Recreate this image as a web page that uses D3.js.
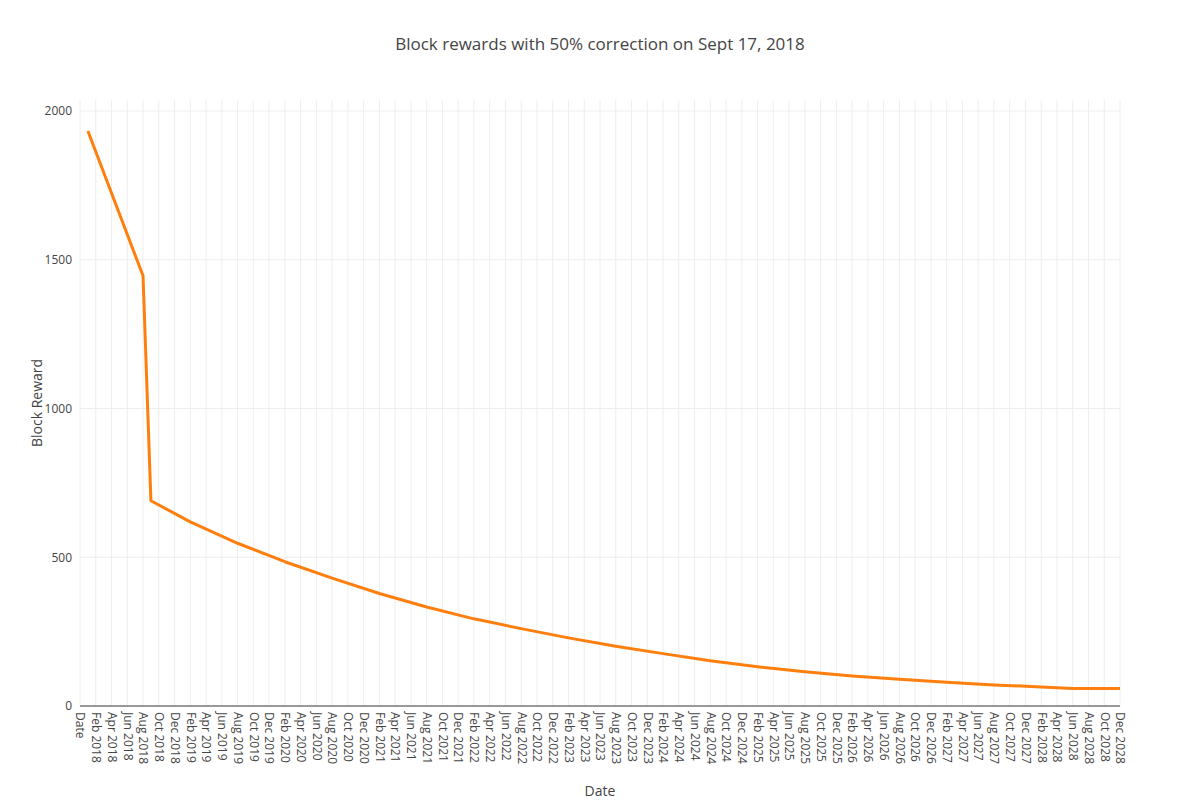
<!DOCTYPE html>
<html>
<head>
<meta charset="utf-8">
<script src="https://cdn.jsdelivr.net/npm/d3@7"></script>
<style>
  body { margin: 0; background: #fff; }
  text { font-family: "Open Sans", sans-serif; fill: #444; }
</style>
</head>
<body>
<div id="chart"></div>
<script>
(function(){
// categories: header row "Date" followed by every month Jan 2018 .. Dec 2028
var MONTHS = ['Jan','Feb','Mar','Apr','May','Jun','Jul','Aug','Sep','Oct','Nov','Dec'];
var categories = ['Date'];
for (var yr = 2018; yr <= 2028; yr++) {
  MONTHS.forEach(function(m){ categories.push(m + ' ' + yr); });
}

// block reward points
var pointDates = ['Jan 2018','Aug 2018','Sep 2018','Feb 2019','Aug 2019','Feb 2020','Aug 2020',
  'Feb 2021','Aug 2021','Feb 2022','Aug 2022','Feb 2023','Aug 2023','Feb 2024','Aug 2024',
  'Feb 2025','Aug 2025','Feb 2026','Aug 2026','Feb 2027','Aug 2027','Feb 2028','Jun 2028','Dec 2028'];
var pointValues = [1933, 1446, 690, 619, 547, 485, 430,
  378, 333, 293, 260, 229, 201, 176, 152,
  132, 115, 101, 90, 80, 71, 64, 59, 59];

var yTicks = [0, 500, 1000, 1500, 2000];

var W = 1200, H = 800;
var plotLeft = 80, plotRight = 1120, plotTop = 100, plotBottom = 706;

var svg = d3.select('#chart').append('svg').attr('width', W).attr('height', H);

var x = d3.scalePoint().domain(categories).range([plotLeft, plotRight]);
var y = d3.scaleLinear().domain([0, 2037]).range([plotBottom, plotTop]);

var tickCats = categories.filter(function(d, i){ return i % 2 === 0; });

// grid
svg.append('g').selectAll('line').data(tickCats).enter().append('line')
  .attr('x1', function(d){ return x(d); }).attr('x2', function(d){ return x(d); })
  .attr('y1', plotTop).attr('y2', plotBottom)
  .attr('stroke', '#eee').attr('stroke-width', 1);
svg.append('g').selectAll('line').data(yTicks.slice(1)).enter().append('line')
  .attr('x1', plotLeft).attr('x2', plotRight)
  .attr('y1', function(d){ return y(d); }).attr('y2', function(d){ return y(d); })
  .attr('stroke', '#eee').attr('stroke-width', 1);

// zero line
svg.append('line').attr('x1', plotLeft).attr('x2', plotRight)
  .attr('y1', y(0)).attr('y2', y(0)).attr('stroke', '#777').attr('stroke-width', 1.5);

// y axis labels
var yAxis = d3.axisLeft(y).tickValues(yTicks).tickFormat(d3.format('d')).tickSize(0).tickPadding(8);
var gy = svg.append('g').attr('transform', 'translate(' + plotLeft + ',0)').call(yAxis);
gy.select('.domain').remove();
gy.selectAll('text').style('font-size', '12px').attr('fill', '#444');

// x axis labels, rotated
var xAxis = d3.axisBottom(x).tickValues(tickCats).tickSize(0).tickPadding(0);
var gx = svg.append('g').attr('transform', 'translate(0,' + (plotBottom + 6) + ')').call(xAxis);
gx.select('.domain').remove();
gx.selectAll('text')
  .style('font-size', '12px').attr('fill', '#444')
  .attr('y', 0).attr('dy', '0.35em')
  .attr('transform', 'rotate(90)')
  .style('text-anchor', 'start');

// line
var pts = pointDates.map(function(d, i){ return {c: d, v: pointValues[i]}; });
var line = d3.line().x(function(d){ return x(d.c); }).y(function(d){ return y(d.v); });
svg.append('path').datum(pts).attr('d', line)
  .attr('fill', 'none').attr('stroke', '#ff7f0e').attr('stroke-width', 3)
  .attr('stroke-linejoin', 'round');

// titles
svg.append('text').attr('x', 600).attr('y', 50).attr('text-anchor', 'middle')
  .style('font-size', '17px').text('Block rewards with 50% correction on Sept 17, 2018');
svg.append('text').attr('x', 600).attr('y', 796).attr('text-anchor', 'middle')
  .style('font-size', '14px').text('Date');
svg.append('text').attr('transform', 'translate(42,' + (plotTop + plotBottom) / 2 + ') rotate(-90)')
  .attr('text-anchor', 'middle').style('font-size', '14px').text('Block Reward');
})();
</script>
</body>
</html>
